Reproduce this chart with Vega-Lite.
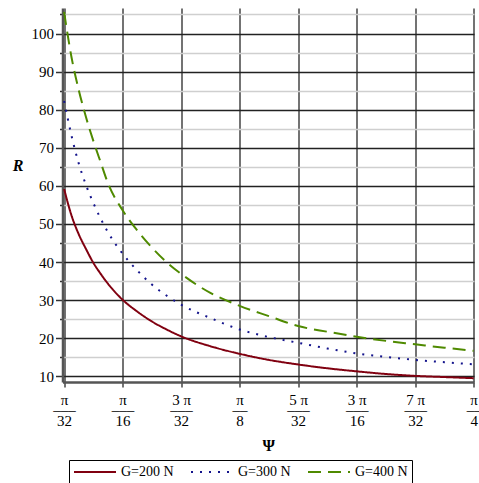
{
  "$schema": "https://vega.github.io/schema/vega-lite/v6.json",
  "width": 411.5,
  "height": 374,
  "autosize": {"type": "none"},
  "padding": {"left": 62.5, "top": 8, "right": 4.5, "bottom": 101},
  "background": "white",
  "config": {
    "view": {"stroke": null},
    "font": "Liberation Serif",
    "axis": {"labelFont": "Liberation Serif", "titleFont": "Liberation Serif"},
    "legend": {
      "orient": "none",
      "legendX": 6.5,
      "legendY": 452,
      "direction": "horizontal",
      "title": null,
      "symbolType": "M-1,0H5",
      "symbolSize": 196,
      "symbolStrokeWidth": 2,
      "labelFont": "Liberation Serif",
      "labelFontSize": 14,
      "labelColor": "black",
      "strokeColor": "black",
      "padding": 4,
      "columnPadding": 13,
      "labelOffset": 32
    }
  },
  "data": {
    "values": [
      {"psi": 0.09817, "G=200 N": 59.2, "G=300 N": 82.3, "G=400 N": 105.7},
      {"psi": 0.11045, "G=200 N": 52.3, "G=300 N": 73.3, "G=400 N": 93.9},
      {"psi": 0.12272, "G=200 N": 47.3, "G=300 N": 65.9, "G=400 N": 85.2},
      {"psi": 0.13499, "G=200 N": 43.4, "G=300 N": 60.2, "G=400 N": 78.0},
      {"psi": 0.14726, "G=200 N": 39.8, "G=300 N": 55.5, "G=400 N": 71.8},
      {"psi": 0.15953, "G=200 N": 36.9, "G=300 N": 51.4, "G=400 N": 66.2},
      {"psi": 0.17181, "G=200 N": 34.3, "G=300 N": 47.8, "G=400 N": 60.7},
      {"psi": 0.19635, "G=200 N": 30.1, "G=300 N": 42.2, "G=400 N": 53.6},
      {"psi": 0.22089, "G=200 N": 27.0, "G=300 N": 37.8, "G=400 N": 48.3},
      {"psi": 0.24544, "G=200 N": 24.4, "G=300 N": 34.1, "G=400 N": 43.8},
      {"psi": 0.26998, "G=200 N": 22.3, "G=300 N": 31.2, "G=400 N": 40.0},
      {"psi": 0.29452, "G=200 N": 20.5, "G=300 N": 28.8, "G=400 N": 36.9},
      {"psi": 0.34361, "G=200 N": 17.9, "G=300 N": 25.3, "G=400 N": 31.9},
      {"psi": 0.39270, "G=200 N": 15.9, "G=300 N": 22.3, "G=400 N": 28.5},
      {"psi": 0.44179, "G=200 N": 14.3, "G=300 N": 20.3, "G=400 N": 25.8},
      {"psi": 0.49087, "G=200 N": 13.1, "G=300 N": 18.8, "G=400 N": 23.2},
      {"psi": 0.53996, "G=200 N": 12.1, "G=300 N": 17.3, "G=400 N": 21.7},
      {"psi": 0.58905, "G=200 N": 11.3, "G=300 N": 16.0, "G=400 N": 20.4},
      {"psi": 0.63814, "G=200 N": 10.6, "G=300 N": 15.1, "G=400 N": 19.3},
      {"psi": 0.68722, "G=200 N": 10.1, "G=300 N": 14.3, "G=400 N": 18.4},
      {"psi": 0.73631, "G=200 N": 9.8, "G=300 N": 13.7, "G=400 N": 17.5},
      {"psi": 0.78540, "G=200 N": 9.5, "G=300 N": 13.15, "G=400 N": 16.7}
    ]
  },
  "transform": [
    {"fold": ["G=200 N", "G=300 N", "G=400 N"], "as": ["series", "R"]}
  ],
  "mark": {"type": "line", "strokeWidth": 2, "interpolate": "monotone", "clip": true},
  "encoding": {
    "x": {
      "field": "psi",
      "type": "quantitative",
      "title": "Ψ",
      "scale": {"domain": [0.0955, 0.786], "nice": false, "zero": false},
      "axis": {
        "values": [0.0981748, 0.1963495, 0.2945243, 0.3926991, 0.4908739, 0.5890486, 0.6872234, 0.7853982],
        "labelExpr": "[['','π','π','3 π','π','5 π','3 π','7 π','π'][round(datum.value*32/PI)], ['','–––','–––','–––','––','–––','–––','–––','––'][round(datum.value*32/PI)], ['','32','16','32','8','32','16','32','4'][round(datum.value*32/PI)]]",
        "labelFont": "Liberation Serif",
        "labelFontSize": 15,
        "labelColor": "black",
        "labelLineHeight": 10.5,
        "labelBaseline": "top",
        "labelPadding": 5,
        "labelOverlap": false,
        "labelFlush": false,
        "labelBound": false,
        "tickSize": 5,
        "tickColor": "#444",
        "tickWidth": 1.5,
        "grid": true,
        "gridColor": "#444",
        "gridWidth": 1.5,
        "domainColor": "#555",
        "domainWidth": 2.5,
        "titleFont": "Liberation Serif",
        "titleFontSize": 16,
        "titleFontWeight": "bold",
        "titleColor": "black",
        "titleBaseline": "middle",
        "titleY": 63
      }
    },
    "y": {
      "field": "R",
      "type": "quantitative",
      "title": "R",
      "scale": {"domain": [8.5, 106.7], "nice": false, "zero": false},
      "axis": {
        "values": [10, 15, 20, 25, 30, 35, 40, 45, 50, 55, 60, 65, 70, 75, 80, 85, 90, 95, 100, 105],
        "labelExpr": "datum.value % 10 === 0 ? datum.label : ''",
        "labelFont": "Liberation Serif",
        "labelFontSize": 15,
        "labelColor": "black",
        "labelPadding": 2,
        "tickSize": {"condition": {"test": "datum.value % 10 === 0", "value": 7}, "value": 3},
        "tickColor": "#333",
        "tickWidth": 1.5,
        "grid": true,
        "gridColor": {"condition": {"test": "datum.value % 10 === 0", "value": "#222"}, "value": "#cfcfcf"},
        "gridWidth": 1.5,
        "domainColor": "#555",
        "domainWidth": 2.5,
        "titleFont": "Liberation Serif",
        "titleFontSize": 16,
        "titleFontWeight": "bold",
        "titleFontStyle": "italic",
        "titleColor": "black",
        "titleAngle": 0,
        "titleAlign": "center",
        "titleBaseline": "middle",
        "titleX": -45,
        "titleY": 157
      }
    },
    "color": {
      "field": "series",
      "type": "nominal",
      "scale": {"domain": ["G=200 N", "G=300 N", "G=400 N"], "range": ["#800010", "#14148c", "#4f8a00"]}
    },
    "strokeDash": {
      "field": "series",
      "type": "nominal",
      "scale": {"domain": ["G=200 N", "G=300 N", "G=400 N"], "range": [[1, 0], [2, 7], [13, 7]]}
    }
  }
}
